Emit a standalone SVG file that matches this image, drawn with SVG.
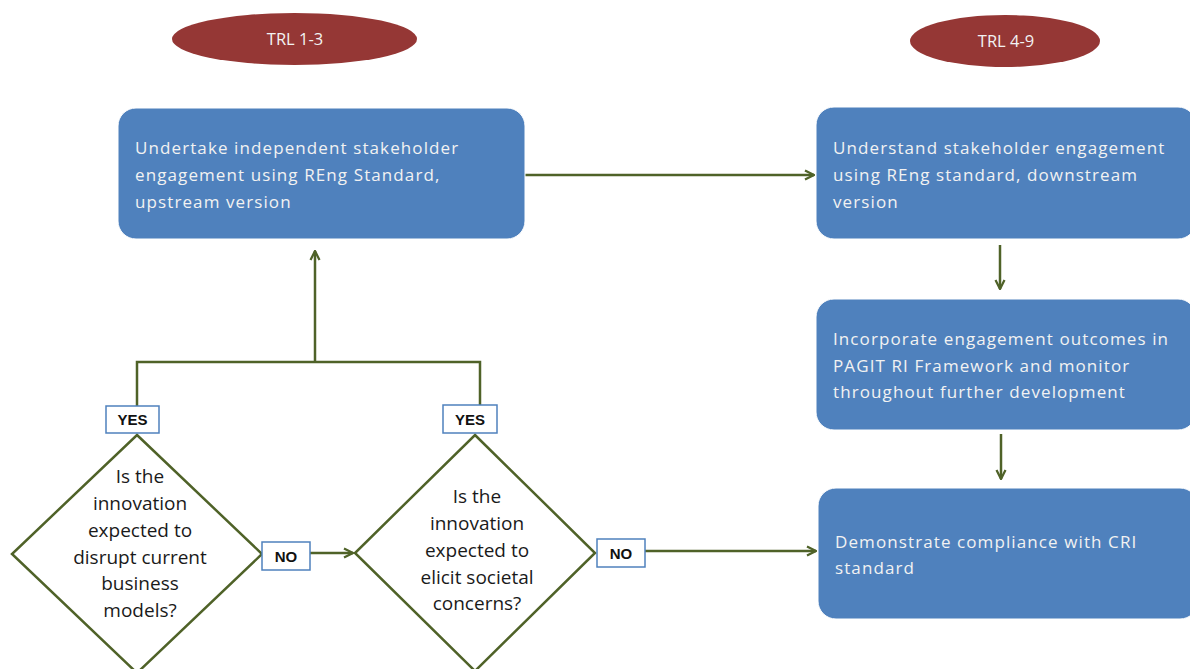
<svg xmlns="http://www.w3.org/2000/svg" width="1190" height="669" viewBox="0 0 1190 669">
<style>
.trl{fill:#953735;}
.trlt{fill:#f2f2f2;font-family:"Open Sans","Liberation Sans",sans-serif;font-size:16.5px;text-anchor:middle;}
.box{fill:#4F81BD;stroke:#ffffff;stroke-width:1;}
.bt{fill:#f2f2f2;font-family:"Open Sans","Liberation Sans",sans-serif;font-size:17px;letter-spacing:1.1px;}
.dia{fill:#ffffff;stroke:#4F6228;stroke-width:2.5;}
.dt{fill:#1a1a1a;font-family:"Open Sans","Liberation Sans",sans-serif;font-size:19px;text-anchor:middle;}
.lbl{fill:#ffffff;stroke:#4F81BD;stroke-width:1.5;}
.lt{fill:#111;font-family:"Liberation Sans",sans-serif;font-weight:bold;font-size:15px;text-anchor:middle;}
.con{fill:none;stroke:#4F6228;stroke-width:2.5;}
</style>
<defs>
<marker id="arr" viewBox="0 0 10 10" refX="9" refY="5" markerWidth="4.5" markerHeight="4.5" orient="auto" markerUnits="strokeWidth">
<path d="M1,1 L9,5 L1,9" fill="none" stroke="#4F6228" stroke-width="2"/>
</marker>
</defs>
<rect width="1190" height="669" fill="#ffffff"/>

<g id="trl13"><ellipse class="trl" cx="294.500" cy="39" rx="122.500" ry="26"/><text class="trlt" x="295" y="45">TRL 1-3</text></g>
<g id="trl49"><ellipse class="trl" cx="1005" cy="41" rx="95" ry="26"/><text class="trlt" x="1006" y="47">TRL 4-9</text></g>

<g id="connectors">
<path class="con" d="M525,175 H814" marker-end="url(#arr)"/>
<path class="con" d="M1000,245 V289" marker-end="url(#arr)"/>
<path class="con" d="M1001,434 V479" marker-end="url(#arr)"/>
<path class="con" d="M137,406 V362 H480 V405"/>
<path class="con" d="M315,362 V251" marker-end="url(#arr)"/>
<path class="con" d="M310,553 H353" marker-end="url(#arr)"/>
<path class="con" d="M645,551 H816" marker-end="url(#arr)"/>
</g>

<g id="box1"><rect class="box" x="118" y="108" width="407" height="131" rx="18"/>
<text class="bt" x="135"><tspan x="135" y="154">Undertake independent stakeholder</tspan><tspan x="135" y="181">engagement using REng Standard,</tspan><tspan x="135" y="208">upstream version</tspan></text></g>

<g id="box2"><rect class="box" x="816" y="107" width="380" height="132" rx="18"/>
<text class="bt"><tspan x="833" y="154">Understand stakeholder engagement</tspan><tspan x="833" y="181">using REng standard, downstream</tspan><tspan x="833" y="208">version</tspan></text></g>

<g id="box3"><rect class="box" x="816" y="299" width="380" height="131" rx="18"/>
<text class="bt"><tspan x="833" y="345">Incorporate engagement outcomes in</tspan><tspan x="833" y="372">PAGIT RI Framework and monitor</tspan><tspan x="833" y="398">throughout further development</tspan></text></g>

<g id="box4"><rect class="box" x="818" y="488" width="380" height="131" rx="18"/>
<text class="bt"><tspan x="835" y="548">Demonstrate compliance with CRI</tspan><tspan x="835" y="574">standard</tspan></text></g>

<g id="dec1"><polygon class="dia" points="137,435 262,554 137,673 12,554"/>
<text class="dt"><tspan x="140" y="483">Is the</tspan><tspan x="140" y="510">innovation</tspan><tspan x="140" y="537">expected to</tspan><tspan x="140" y="564">disrupt current</tspan><tspan x="140" y="590">business</tspan><tspan x="140" y="617">models?</tspan></text></g>

<g id="dec2"><polygon class="dia" points="475,435 595,553 475,671 355,553"/>
<text class="dt"><tspan x="477" y="503">Is the</tspan><tspan x="477" y="530">innovation</tspan><tspan x="477" y="557">expected to</tspan><tspan x="477" y="584">elicit societal</tspan><tspan x="477" y="610">concerns?</tspan></text></g>

<g id="yes1"><rect class="lbl" x="106" y="406" width="53" height="27"/><text class="lt" x="132.500" y="425">YES</text></g>
<g id="yes2"><rect class="lbl" x="443" y="405" width="54" height="28"/><text class="lt" x="470" y="425">YES</text></g>
<g id="no1"><rect class="lbl" x="262" y="542" width="48" height="28"/><text class="lt" x="286" y="562">NO</text></g>
<g id="no2"><rect class="lbl" x="597" y="539" width="48" height="28"/><text class="lt" x="621" y="559">NO</text></g>
</svg>
